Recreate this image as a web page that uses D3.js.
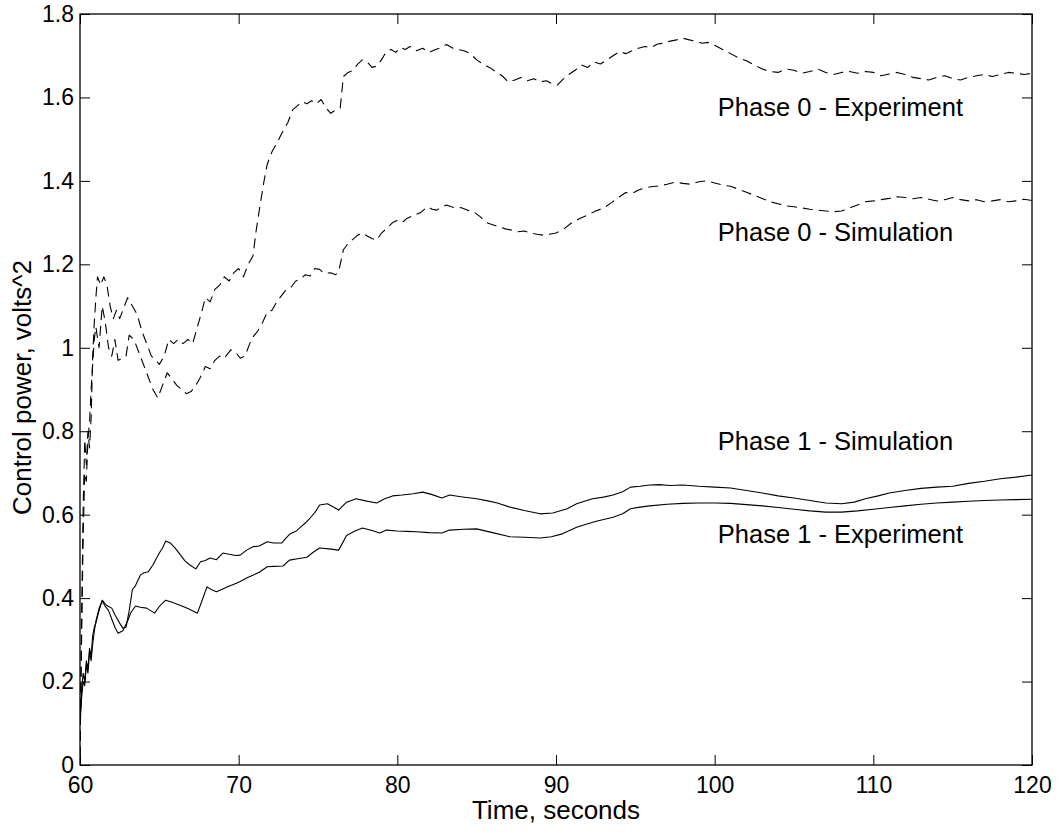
<!DOCTYPE html>
<html>
<head>
<meta charset="utf-8">
<script src="https://cdn.jsdelivr.net/npm/d3@7"></script>
<style>
  body { margin: 0; background: #fff; }
  svg { display: block; }
  text { font-family: "Liberation Sans", Arial, Helvetica, sans-serif; fill: #000; }
</style>
</head>
<body>
<svg id="chart" width="1061" height="835"></svg>
<script>
// Axis ticks
const xTicks = [60, 70, 80, 90, 100, 110, 120];
const yTicks = [0, 0.2, 0.4, 0.6, 0.8, 1, 1.2, 1.4, 1.6, 1.8];
const yTickLabels = ["0", "0.2", "0.4", "0.6", "0.8", "1", "1.2", "1.4", "1.6", "1.8"];

// Control power traces: [time (s), power (volts^2)]
const phase0Experiment = [
  [60.0,0.02],[60.1,0.35],[60.2,0.62],[60.3,0.78],[60.4,0.72],[60.5,0.80],[60.6,0.76],[60.7,0.83],
  [60.8,0.98],[60.9,1.06],[61.0,1.12],[61.1,1.17],[61.3,1.15],[61.5,1.17],[61.7,1.15],[61.9,1.10],
  [62.1,1.07],[62.3,1.09],[62.5,1.07],[62.8,1.10],[63.0,1.12],[63.3,1.10],[63.6,1.08],[63.9,1.04],
  [64.2,1.01],[64.5,0.98],[64.8,0.97],[65.0,0.96],[65.3,0.98],[65.6,1.02],[65.9,1.01],[66.2,1.02],
  [66.5,1.01],[66.8,1.02],[67.1,1.01],[67.4,1.05],[67.7,1.09],[67.9,1.12],[68.2,1.11],[68.5,1.14],
  [68.8,1.15],[69.1,1.17],[69.4,1.16],[69.7,1.18],[70.0,1.19],[70.3,1.17],[70.6,1.20],[70.9,1.22],
  [71.1,1.28],[71.3,1.33],[71.6,1.40],[71.8,1.44],[72.1,1.47],[72.4,1.49],[72.8,1.52],[73.1,1.54],
  [73.4,1.57],[73.7,1.58],[74.0,1.59],[74.3,1.585],[74.6,1.592],[74.9,1.585],[75.2,1.595],[75.5,1.575],
  [75.8,1.562],[76.1,1.57],[76.4,1.575],[76.6,1.65],[76.9,1.66],[77.2,1.665],[77.5,1.68],[77.8,1.69],
  [78.1,1.685],[78.4,1.672],[78.7,1.675],[79.0,1.69],[79.3,1.71],[79.6,1.715],[79.9,1.708],[80.2,1.72],
  [80.5,1.715],[80.8,1.722],[81.2,1.712],[81.6,1.718],[82.0,1.708],[82.4,1.715],[82.8,1.72],[83.1,1.727],
  [83.5,1.718],[83.8,1.715],[84.2,1.712],[84.6,1.705],[85.0,1.69],[85.4,1.68],[85.8,1.672],[86.2,1.662],
  [86.6,1.652],[87.0,1.637],[87.4,1.642],[87.8,1.648],[88.2,1.64],[88.6,1.645],[89.0,1.637],[89.4,1.64],
  [89.8,1.632],[90.1,1.63],[90.4,1.642],[90.8,1.655],[91.2,1.665],[91.6,1.678],[92.0,1.672],[92.4,1.685],
  [92.8,1.68],[93.2,1.69],[93.6,1.70],[94.0,1.71],[94.4,1.705],[94.8,1.712],[95.2,1.718],[95.6,1.722],
  [96.0,1.72],[96.4,1.728],[96.8,1.73],[97.2,1.735],[97.6,1.738],[98.0,1.742],[98.4,1.738],[98.8,1.735],
  [99.2,1.73],[99.6,1.732],[100.0,1.725],[100.5,1.715],[101.0,1.705],[101.5,1.695],[102.0,1.688],
  [102.5,1.678],[103.0,1.668],[103.5,1.662],[104.0,1.66],[104.5,1.668],[105.0,1.665],[105.5,1.658],
  [106.0,1.662],[106.5,1.668],[107.0,1.66],[107.5,1.655],[108.0,1.66],[108.5,1.662],[109.0,1.658],
  [109.5,1.662],[110.0,1.66],[110.5,1.652],[111.0,1.656],[111.5,1.66],[112.0,1.655],[112.5,1.648],
  [113.0,1.645],[113.5,1.642],[114.0,1.648],[114.5,1.652],[115.0,1.645],[115.5,1.642],[116.0,1.648],
  [116.5,1.652],[117.0,1.655],[117.5,1.65],[118.0,1.655],[118.5,1.66],[119.0,1.658],[119.5,1.655],[120.0,1.658]
];

const phase0Simulation = [
  [60.0,0.02],[60.1,0.30],[60.2,0.55],[60.3,0.70],[60.4,0.68],[60.5,0.78],[60.6,0.82],[60.7,0.90],
  [60.8,0.96],[60.9,1.02],[61.0,1.05],[61.2,1.00],[61.4,1.10],[61.6,1.06],[61.8,1.00],[62.0,0.98],
  [62.2,1.02],[62.4,0.97],[62.7,0.975],[62.9,0.98],[63.1,1.03],[63.4,1.02],[63.7,0.99],[64.0,0.96],
  [64.3,0.93],[64.6,0.90],[64.9,0.88],[65.2,0.91],[65.5,0.94],[65.8,0.925],[66.1,0.91],[66.4,0.90],
  [66.7,0.89],[67.0,0.895],[67.3,0.91],[67.6,0.93],[67.9,0.955],[68.2,0.95],[68.5,0.97],[68.8,0.98],
  [69.1,0.975],[69.5,0.995],[69.8,0.99],[70.1,0.975],[70.4,0.98],[70.7,1.01],[70.9,1.026],[71.2,1.04],
  [71.5,1.06],[71.8,1.085],[72.1,1.09],[72.4,1.11],[72.7,1.125],[73.0,1.14],[73.3,1.145],[73.6,1.16],
  [73.9,1.165],[74.2,1.175],[74.5,1.172],[74.8,1.19],[75.1,1.188],[75.4,1.178],[75.8,1.18],[76.1,1.175],
  [76.3,1.182],[76.6,1.235],[76.9,1.25],[77.2,1.26],[77.5,1.27],[77.8,1.275],[78.1,1.268],[78.4,1.262],
  [78.7,1.258],[79.0,1.275],[79.3,1.285],[79.7,1.30],[80.0,1.305],[80.3,1.30],[80.6,1.31],[80.9,1.315],
  [81.2,1.32],[81.5,1.325],[81.9,1.338],[82.2,1.332],[82.5,1.33],[82.8,1.338],[83.1,1.342],[83.4,1.338],
  [83.7,1.335],[84.0,1.336],[84.4,1.33],[84.8,1.326],[85.2,1.315],[85.6,1.30],[86.0,1.295],[86.4,1.29],
  [86.8,1.285],[87.2,1.282],[87.6,1.278],[88.0,1.28],[88.4,1.275],[88.8,1.272],[89.2,1.27],[89.6,1.272],
  [90.0,1.275],[90.5,1.285],[91.0,1.30],[91.5,1.31],[92.0,1.318],[92.5,1.328],[93.0,1.335],[93.5,1.348],
  [94.0,1.362],[94.4,1.372],[94.8,1.37],[95.2,1.378],[95.6,1.383],[96.0,1.386],[96.5,1.388],[97.0,1.392],
  [97.5,1.397],[98.0,1.394],[98.5,1.392],[99.0,1.398],[99.5,1.40],[100.0,1.395],[100.5,1.39],[101.0,1.387],
  [101.5,1.38],[102.0,1.373],[102.5,1.365],[103.0,1.358],[103.5,1.35],[104.0,1.345],[104.5,1.34],
  [105.0,1.338],[105.5,1.335],[106.0,1.332],[106.5,1.33],[107.0,1.328],[107.5,1.326],[108.0,1.328],
  [108.5,1.335],[109.0,1.342],[109.5,1.35],[110.0,1.352],[110.5,1.355],[111.0,1.358],[111.5,1.362],
  [112.0,1.36],[112.5,1.357],[113.0,1.36],[113.5,1.356],[114.0,1.352],[114.5,1.355],[115.0,1.36],
  [115.5,1.355],[116.0,1.352],[116.5,1.355],[117.0,1.35],[117.5,1.352],[118.0,1.355],[118.5,1.35],
  [119.0,1.352],[119.5,1.356],[120.0,1.353]
];

const phase1Simulation = [
  [60.0,0.10],[60.1,0.18],[60.2,0.22],[60.3,0.20],[60.4,0.25],[60.5,0.23],[60.6,0.28],[60.7,0.26],
  [60.8,0.31],[60.9,0.33],[61.0,0.34],[61.2,0.37],[61.4,0.395],[61.6,0.385],[61.8,0.38],[62.0,0.376],
  [62.2,0.36],[62.5,0.34],[62.7,0.328],[62.9,0.33],[63.1,0.37],[63.3,0.42],[63.5,0.43],[63.8,0.455],
  [64.0,0.46],[64.3,0.463],[64.6,0.48],[65.0,0.508],[65.2,0.52],[65.4,0.537],[65.7,0.532],[66.0,0.52],
  [66.3,0.505],[66.6,0.49],[66.9,0.48],[67.3,0.47],[67.6,0.487],[67.9,0.49],[68.2,0.496],[68.6,0.492],
  [69.0,0.508],[69.4,0.505],[69.8,0.502],[70.1,0.503],[70.5,0.515],[70.9,0.523],[71.3,0.525],[71.8,0.535],
  [72.2,0.532],[72.7,0.532],[73.2,0.553],[73.6,0.56],[73.9,0.57],[74.2,0.58],[74.5,0.592],[74.8,0.605],
  [75.1,0.623],[75.6,0.626],[76.0,0.618],[76.3,0.611],[76.8,0.63],[77.4,0.638],[78.0,0.633],[78.7,0.628],
  [79.2,0.638],[79.7,0.645],[80.3,0.647],[81.0,0.65],[81.6,0.654],[82.2,0.648],[82.8,0.64],[83.3,0.647],
  [84.0,0.643],[85.0,0.638],[85.7,0.633],[86.3,0.628],[87.1,0.618],[88.0,0.61],[89.0,0.602],[89.8,0.604],
  [90.7,0.614],[91.3,0.626],[92.3,0.638],[93.0,0.642],[93.6,0.647],[94.2,0.655],[94.7,0.666],[95.3,0.668],
  [95.9,0.671],[96.5,0.672],[97.2,0.67],[98.0,0.671],[99.0,0.668],[100.0,0.666],[101.0,0.664],[102.0,0.658],
  [103.0,0.652],[104.0,0.645],[105.0,0.64],[106.0,0.634],[107.0,0.628],[108.0,0.626],[108.8,0.63],
  [109.5,0.638],[110.3,0.645],[111.0,0.652],[112.0,0.658],[113.0,0.663],[114.0,0.666],[115.0,0.668],
  [116.0,0.675],[117.0,0.68],[118.0,0.686],[119.0,0.69],[120.0,0.695]
];

const phase1Experiment = [
  [60.0,0.10],[60.1,0.16],[60.2,0.20],[60.3,0.19],[60.4,0.24],[60.5,0.22],[60.6,0.27],[60.7,0.25],
  [60.8,0.29],[60.9,0.32],[61.0,0.345],[61.2,0.375],[61.4,0.393],[61.6,0.38],[61.8,0.37],[62.0,0.35],
  [62.2,0.33],[62.4,0.316],[62.7,0.322],[63.0,0.345],[63.2,0.365],[63.5,0.381],[63.8,0.378],[64.2,0.376],
  [64.7,0.364],[65.0,0.38],[65.4,0.395],[65.8,0.39],[66.3,0.383],[66.8,0.375],[67.4,0.364],[67.7,0.395],
  [68.0,0.427],[68.3,0.42],[68.6,0.415],[69.0,0.422],[69.3,0.427],[69.7,0.433],[70.1,0.44],[70.5,0.448],
  [70.9,0.455],[71.3,0.462],[71.8,0.475],[72.2,0.476],[72.8,0.477],[73.2,0.491],[73.8,0.495],[74.3,0.498],
  [74.7,0.51],[75.1,0.52],[75.7,0.518],[76.3,0.515],[76.8,0.55],[77.3,0.56],[77.8,0.568],[78.4,0.562],
  [78.9,0.556],[79.3,0.563],[80.0,0.561],[80.6,0.56],[81.2,0.559],[82.0,0.557],[82.8,0.556],[83.3,0.563],
  [84.2,0.565],[85.0,0.566],[86.0,0.557],[87.1,0.547],[88.0,0.546],[89.0,0.544],[89.7,0.547],[90.4,0.554],
  [91.3,0.57],[92.0,0.578],[92.6,0.585],[93.6,0.594],[94.2,0.602],[94.7,0.614],[95.3,0.618],[95.9,0.621],
  [97.0,0.625],[98.0,0.627],[99.0,0.628],[100.0,0.628],[101.0,0.627],[102.0,0.624],[103.0,0.621],
  [104.0,0.617],[105.0,0.613],[106.0,0.609],[107.0,0.606],[108.0,0.606],[109.0,0.609],[110.0,0.613],
  [111.0,0.617],[112.0,0.621],[113.0,0.625],[114.0,0.628],[115.0,0.63],[116.0,0.632],[117.0,0.634],
  [118.0,0.635],[119.0,0.636],[120.0,0.637]
];

// Curve annotations: [text, time, power]
const annotations = [
  ["Phase 0 - Experiment", 100.2, 1.576],
  ["Phase 0 - Simulation", 100.2, 1.277],
  ["Phase 1 - Simulation", 100.2, 0.776],
  ["Phase 1 - Experiment", 100.2, 0.553]
];

const xLabel = "Time, seconds";
const yLabel = "Control power, volts^2";

// Layout
const plot = { left: 80, top: 14, right: 1032, bottom: 765 };

const svg = d3.select("#chart");

const x = d3.scaleLinear().domain([60, 120]).range([plot.left, plot.right]);
const y = d3.scaleLinear().domain([0, 1.8]).range([plot.bottom, plot.top]);

svg.append("defs").append("clipPath").attr("id", "plot-clip")
  .append("rect")
  .attr("x", plot.left).attr("y", plot.top)
  .attr("width", plot.right - plot.left).attr("height", plot.bottom - plot.top);

const tickFont = 23;
const titleFont = 26;
const noteFont = 25.5;

function styleAxis(g) {
  g.select(".domain").remove();
  g.selectAll(".tick line").attr("stroke", "#000").attr("stroke-width", 1);
  g.selectAll(".tick text").attr("font-size", tickFont).attr("font-family", null).attr("fill", "#000");
}

// Bottom axis with labels, ticks pointing inward
svg.append("g")
  .attr("transform", `translate(0,${plot.bottom})`)
  .call(d3.axisBottom(x).tickValues(xTicks).tickSizeInner(-10).tickSizeOuter(0).tickPadding(12)
        .tickFormat(d3.format("d")))
  .call(styleAxis);

// Top axis, ticks only
svg.append("g")
  .attr("transform", `translate(0,${plot.top})`)
  .call(d3.axisTop(x).tickValues(xTicks).tickSizeInner(-10).tickSizeOuter(0).tickFormat(""))
  .call(styleAxis);

// Left axis with labels
svg.append("g")
  .attr("transform", `translate(${plot.left},0)`)
  .call(d3.axisLeft(y).tickValues(yTicks).tickSizeInner(-10).tickSizeOuter(0).tickPadding(6)
        .tickFormat((d, i) => yTickLabels[i]))
  .call(styleAxis);

// Right axis, ticks only
svg.append("g")
  .attr("transform", `translate(${plot.right},0)`)
  .call(d3.axisRight(y).tickValues(yTicks).tickSizeInner(-10).tickSizeOuter(0).tickFormat(""))
  .call(styleAxis);

// Traces
const line = d3.line().x(d => x(d[0])).y(d => y(d[1]));
const traces = [
  { data: phase0Experiment, dash: "10,6" },
  { data: phase0Simulation, dash: "10,6" },
  { data: phase1Simulation, dash: null },
  { data: phase1Experiment, dash: null }
];

svg.append("g").attr("clip-path", "url(#plot-clip)")
  .selectAll("path")
  .data(traces)
  .join("path")
  .attr("d", d => line(d.data))
  .attr("fill", "none")
  .attr("stroke", "#000")
  .attr("stroke-width", 1.1)
  .attr("stroke-linejoin", "round")
  .attr("stroke-dasharray", d => d.dash);

// Frame
svg.append("rect")
  .attr("x", plot.left).attr("y", plot.top)
  .attr("width", plot.right - plot.left).attr("height", plot.bottom - plot.top)
  .attr("fill", "none").attr("stroke", "#000").attr("stroke-width", 1.3);

// Curve labels
svg.append("g").selectAll("text")
  .data(annotations)
  .join("text")
  .attr("x", d => x(d[1]))
  .attr("y", d => y(d[2]))
  .attr("dy", "0.33em")
  .attr("font-size", noteFont)
  .text(d => d[0]);

// Axis titles
svg.append("text")
  .attr("x", (plot.left + plot.right) / 2)
  .attr("y", 819)
  .attr("text-anchor", "middle")
  .attr("font-size", titleFont)
  .text(xLabel);

svg.append("text")
  .attr("transform", `translate(31,${(plot.top + plot.bottom) / 2 - 2}) rotate(-90)`)
  .attr("text-anchor", "middle")
  .attr("font-size", titleFont)
  .text(yLabel);
</script>
</body>
</html>
